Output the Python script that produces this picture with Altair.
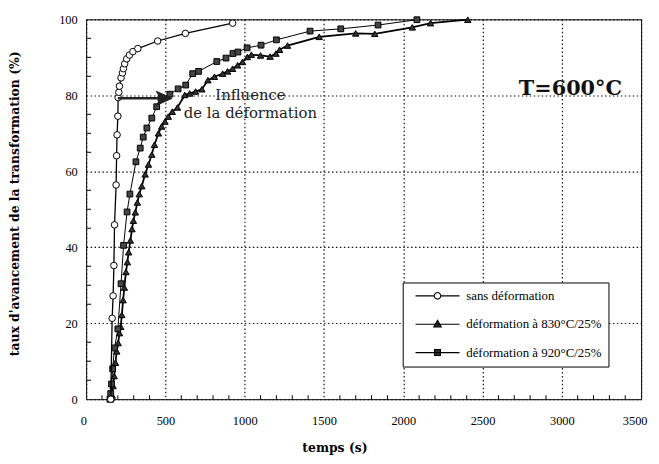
import altair as alt
import pandas as pd

# ---------------- data ----------------
series_names = ["sans déformation", "déformation à 830°C/25%", "déformation à 920°C/25%"]

t_sans = [155, 164, 170, 175, 179, 189, 192, 195, 200, 202, 206, 210, 220, 229, 235, 243,
          256, 273, 295, 326, 451, 626, 924]
p_sans = [0, 21.3, 27.2, 35.2, 45.9, 56.4, 64.1, 69.6, 74.5, 79.4, 80.8, 82.4, 84.6, 85.9,
          87, 88.3, 89.6, 90.6, 91.5, 92.3, 94.3, 96.3, 99]

t_830 = [155, 160, 164, 170, 177, 185, 193, 202, 210, 218, 225, 233, 241, 251, 260, 268,
         279, 289, 298, 310, 323, 335, 351, 372, 393, 414, 431, 456, 476, 497, 518, 543,
         576, 622, 653, 690, 730, 768, 809, 861, 892, 924, 955, 986, 1017, 1042, 1100,
         1160, 1197, 1220, 1270, 1470, 1700, 1820, 2057, 2172, 2407]
p_830 = [0, 0.5, 1, 3.5, 6.1, 9.6, 12.6, 14.8, 17.4, 19.1, 22.2, 26.1, 29.4, 33.5, 36.1,
         38.7, 41.8, 44.8, 47, 49.2, 51.8, 54, 56.1, 59.2, 61.8, 64.4, 67, 70, 71.8, 73.1,
         74.4, 75.7, 76.8, 80.1, 80.5, 81, 81.6, 84, 84.9, 85.7, 86.3, 87, 87.9, 88.8,
         90.1, 90.7, 90.5, 90.2, 91, 92, 93.1, 95.4, 96.3, 96.2, 97.9, 99, 99.9]

t_920 = [150, 155, 160, 167, 179, 200, 220, 236, 258, 276, 314, 341, 360, 383, 414, 445,
         472, 528, 580, 628, 672, 709, 824, 882, 926, 957, 1015, 1103, 1200, 1412, 1606,
         1841, 2086]
p_920 = [0, 1.5, 4, 8, 13.5, 18.5, 30.4, 40.5, 49.3, 54, 62.5, 66.1, 69, 71.4, 74, 77,
         79.2, 80.3, 81.7, 82.7, 85.7, 86.3, 88.9, 89.8, 91, 91.4, 92.5, 93.2, 94.6, 96.9,
         97.5, 98.5, 99.9]

x_ticks = [0, 500, 1000, 1500, 2000, 2500, 3000, 3500]
y_ticks = [0, 20, 40, 60, 80, 100]
x_minor = [v for v in range(100, 3500, 100) if v % 500]
y_minor = [v for v in range(5, 100, 5) if v % 20]

# annotation anchors (data units)
ARROW_FROM, ARROW_TO, ARROW_HEAD, ARROW_P = 200, 500, 492, 79.2
INFL_T, INFL_P1, INFL_P2 = 1036, 78.8, 74.0
TEMP_T, TEMP_P = 3054, 80.0

# ---------------- build tables ----------------
df_sans = pd.DataFrame({"t": t_sans, "p": p_sans, "series": series_names[0]})
df_830 = pd.DataFrame({"t": t_830, "p": p_830, "series": series_names[1]})
df_920 = pd.DataFrame({"t": t_920, "p": p_920, "series": series_names[2]})
df_all = pd.concat([df_sans, df_830, df_920], ignore_index=True)

W, H = 561, 384
SERIF = "'Liberation Serif', 'Times New Roman', serif"
TSERIF = "'DejaVu Serif', serif"
GRID_DASH = [1.5, 2.5]

x_scale = alt.Scale(domain=[0, 3500], nice=False, zero=False)
y_scale = alt.Scale(domain=[0, 100], nice=False, zero=False)

x_enc = alt.X("t:Q", scale=x_scale, axis=alt.Axis(
    values=x_ticks, format="d", grid=True, gridDash=GRID_DASH, gridColor="#111",
    gridWidth=1.2, ticks=False, domain=False, labelFont=SERIF, labelFontSize=12.5,
    labelColor="black", labelPadding=16, labelFlush=True, labelFlushOffset=6,
    title="temps (s)", titleFont=TSERIF, titleFontWeight="bold", titleFontSize=12.5,
    titleColor="black", titleX=251, titleY=49, titleAlign="center", titleBaseline="middle"))
y_enc = alt.Y("p:Q", scale=y_scale, axis=alt.Axis(
    values=y_ticks, grid=True, gridDash=GRID_DASH, gridColor="#111", gridWidth=1.2,
    ticks=False, domain=False, labelFont=SERIF, labelFontSize=12.5, labelColor="black",
    labelPadding=9, labelFlush=False,
    title="taux d'avancement de la transformation (%)", titleFont=TSERIF,
    titleFontWeight="bold", titleFontSize=12.5, titleColor="black",
    titleX=-72, titleY=186, titleAngle=270, titleAlign="center", titleBaseline="middle"))

# minor inner ticks
xminor_layer = alt.Chart(pd.DataFrame({"t": x_minor})).mark_rule(
    color="black", strokeWidth=1).encode(x=x_enc, y=alt.value(H), y2=alt.value(H - 4))
yminor_layer = alt.Chart(pd.DataFrame({"p": y_minor})).mark_rule(
    color="black", strokeWidth=1).encode(y=y_enc, x=alt.value(0), x2=alt.value(5))

def series_layers(df, width, shape, fill, size):
    line = alt.Chart(df).mark_line(color="black", strokeWidth=width).encode(
        x=x_enc, y=y_enc, order="t:Q")
    pts = alt.Chart(df).mark_point(shape=shape, filled=True, fill=fill, stroke="black",
                                   strokeWidth=1, size=size, opacity=1).encode(x=x_enc, y=y_enc)
    return [line, pts]

layers = [xminor_layer, yminor_layer]
layers += series_layers(df_830, 1.8, "triangle-up", "#333", 42)
layers += series_layers(df_920, 1.0, "square", "#444", 34)
layers += series_layers(df_sans, 1.3, "circle", "white", 44)

# arrow "Influence de la déformation"
arrow_df = pd.DataFrame({"t": [ARROW_FROM], "t2": [ARROW_TO], "p": [ARROW_P]})
arrow_line = alt.Chart(arrow_df).mark_rule(color="#222", strokeWidth=2.5).encode(
    x=x_enc, x2="t2:Q", y=y_enc)
head_df = pd.DataFrame({"t": [ARROW_HEAD], "p": [ARROW_P]})
arrow_head = alt.Chart(head_df).mark_point(
    shape="M1,0L-1,-0.9L-0.45,0L-1,0.9Z", filled=True, fill="#222", stroke="#222",
    strokeWidth=1, size=256, opacity=1).encode(x=x_enc, y=y_enc)

text_df = pd.DataFrame({"t": [INFL_T, INFL_T], "p": [INFL_P1, INFL_P2],
                        "label": ["Influence", "de la déformation"]})
infl_text = alt.Chart(text_df).mark_text(
    font=TSERIF, fontSize=15, color="#222", align="center", baseline="alphabetic").encode(
    x=x_enc, y=y_enc, text="label:N")
temp_df = pd.DataFrame({"t": [TEMP_T], "p": [TEMP_P], "label": ["T=600°C"]})
temp_text = alt.Chart(temp_df).mark_text(
    font=TSERIF, fontSize=21, fontWeight="bold", color="#111", align="center",
    baseline="alphabetic").encode(x=x_enc, y=y_enc, text="label:N")

layers += [arrow_line, arrow_head, infl_text, temp_text]

# legend (invisible layer that only feeds the legend)
legend_paths = [
    "M-6.7,0H-1M1,0H6.7M1,0A1,1,0,1,1,-1,0A1,1,0,1,1,1,0Z",
    "M-6.7,0H6.7M0,-1.2L1.15,0.85L-1.15,0.85Z",
    "M-6.7,0H6.7M-0.9,-0.9H0.9V0.9H-0.9Z",
]
leg = alt.Legend(orient="none", legendX=320, legendY=266, title=None, direction="vertical",
                 strokeColor="black", fillColor="white", padding=7, rowPadding=14.7,
                 symbolOffset=21.7, labelOffset=22.5, labelFont=SERIF, labelFontSize=13,
                 labelColor="black", labelLimit=400, symbolSize=44, symbolStrokeWidth=1.1,
                 symbolStrokeColor="black", symbolOpacity=1)
legend_layer = alt.Chart(df_all).mark_point(filled=True, opacity=0).encode(
    x=x_enc, y=y_enc,
    shape=alt.Shape("series:N", scale=alt.Scale(domain=series_names, range=legend_paths),
                    legend=leg),
    fill=alt.Fill("series:N", scale=alt.Scale(domain=series_names,
                                              range=["white", "#333", "#333"]), legend=leg),
    stroke=alt.Stroke("series:N", scale=alt.Scale(domain=series_names,
                                                  range=["black", "black", "black"]),
                      legend=leg),
)
layers.append(legend_layer)

chart = alt.layer(*layers).properties(
    width=W, height=H,
    autosize=alt.AutoSizeParams(type="none"),
    padding={"left": 79, "top": 9, "right": 10, "bottom": 60},
    background="white",
).configure_view(stroke="black", strokeWidth=1)

chart.save("out.html", embed_options={"renderer": "svg", "actions": False})
